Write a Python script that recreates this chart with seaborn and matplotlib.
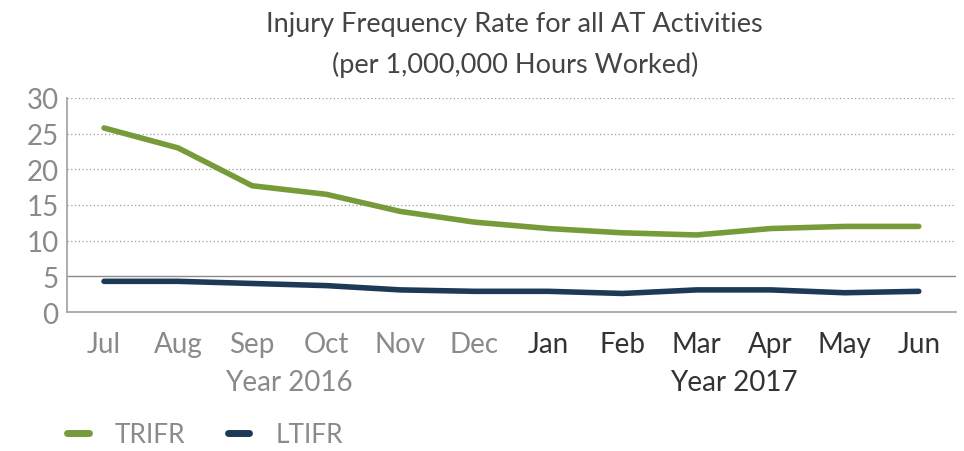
import numpy as np
import pandas as pd
import matplotlib.pyplot as plt
import seaborn as sns
from matplotlib.lines import Line2D

months = ["Jul", "Aug", "Sep", "Oct", "Nov", "Dec",
          "Jan", "Feb", "Mar", "Apr", "May", "Jun"]
trifr = [25.8, 23.0, 17.7, 16.5, 14.1, 12.6, 11.7, 11.1, 10.8, 11.7, 12.0, 12.0]
ltifr = [4.3, 4.3, 4.0, 3.7, 3.1, 2.9, 2.9, 2.6, 3.1, 3.1, 2.7, 2.9]
years = ["Year 2016", "Year 2017"]

sns.set_theme(style="white")
plt.rcParams["font.family"] = ["Lato", "DejaVu Sans"]

green = "#789b3a"
navy = "#1c3a56"
gray = "#8a8a8a"

df = pd.DataFrame({
    "x": list(range(12)) * 2,
    "value": trifr + ltifr,
    "series": ["TRIFR"] * 12 + ["LTIFR"] * 12,
})

fig = plt.figure(figsize=(9.64, 4.52), dpi=100)
ax = fig.add_axes([0.0695, 0.3075, 0.922, 0.4735])

sns.lineplot(data=df, x="x", y="value", hue="series",
             palette={"TRIFR": green, "LTIFR": navy},
             linewidth=4, legend=False, ax=ax,
             solid_capstyle="round")

ax.set_xlim(-0.5, 11.5)
ax.set_ylim(0, 30)
ax.set_yticks([0, 5, 10, 15, 20, 25, 30])
ax.tick_params(axis="y", length=0, labelsize=20, labelcolor=gray, pad=6)

# dotted grid, solid line at 5
for y in [10, 15, 20, 25, 30]:
    ax.axhline(y, color="#9a9a9a", linestyle=(0, (1, 2)), linewidth=0.9, zorder=0)
ax.axhline(5, color="#8a8a8a", linewidth=1.0, zorder=0)

# boundary ticks and centered month labels
ax.set_xticks(np.arange(-0.5, 12, 1))
ax.set_xticklabels([])
ax.tick_params(axis="x", which="major", length=9, color="#a0a0a0", width=1)
ax.set_xticks(np.arange(12), minor=True)
ax.set_xticklabels(months, minor=True)
ax.tick_params(axis="x", which="minor", length=0, labelsize=20, pad=14)
for i, lab in enumerate(ax.get_xticklabels(minor=True)):
    lab.set_color(gray if i < 6 else "#333333")
ax.set_xlabel("")
ax.set_ylabel("")

for s in ["top", "right"]:
    ax.spines[s].set_visible(False)
for s in ["left", "bottom"]:
    ax.spines[s].set_color("#a0a0a0")
    ax.spines[s].set_linewidth(1.2)

# year labels
ax.text(2.5, -0.327, years[0], transform=ax.get_xaxis_transform(),
        ha="center", va="center", fontsize=20, color=gray)
ax.text(8.5, -0.327, years[1], transform=ax.get_xaxis_transform(),
        ha="center", va="center", fontsize=20, color="#333333")

fig.text(0.534, 0.945, "Injury Frequency Rate for all AT Activities",
         ha="center", va="center", fontsize=19.5, color="#444444")
fig.text(0.534, 0.857, "(per 1,000,000 Hours Worked)",
         ha="center", va="center", fontsize=19.5, color="#444444")

handles = [Line2D([], [], color=green, linewidth=5, solid_capstyle="round"),
           Line2D([], [], color=navy, linewidth=5, solid_capstyle="round")]
leg = fig.legend(handles, ["TRIFR", "LTIFR"], loc="center left",
                 bbox_to_anchor=(0.07, 0.036), ncol=2, frameon=False,
                 fontsize=19, handlelength=0.8, columnspacing=1.6,
                 handletextpad=1.0, borderaxespad=0, borderpad=0)
for t in leg.get_texts():
    t.set_color(gray)

fig.savefig("out.png", dpi=100)
